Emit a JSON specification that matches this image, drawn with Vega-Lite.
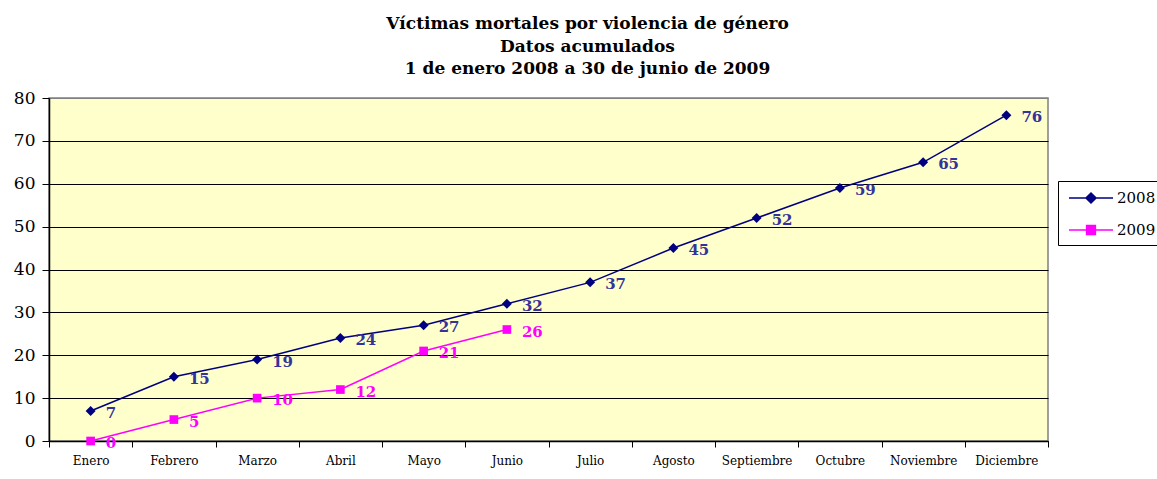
{
  "$schema": "https://vega.github.io/schema/vega-lite/v6.json",
  "width": 999,
  "height": 343,
  "autosize": {"type": "none"},
  "padding": {"left": 49, "top": 98, "right": 109, "bottom": 38},
  "background": "white",
  "title": {
    "text": ["Víctimas mortales por violencia de género", "Datos acumulados", "1 de enero 2008 a 30 de junio de 2009"],
    "font": "DejaVu Serif",
    "fontSize": 17,
    "fontWeight": "bold",
    "color": "black",
    "anchor": "middle",
    "dx": 39,
    "offset": 11,
    "lineHeight": 22.5
  },
  "data": {
    "values": [
      {"mes": "Enero", "year": "2008", "v": 7},
      {"mes": "Febrero", "year": "2008", "v": 15},
      {"mes": "Marzo", "year": "2008", "v": 19},
      {"mes": "Abril", "year": "2008", "v": 24},
      {"mes": "Mayo", "year": "2008", "v": 27},
      {"mes": "Junio", "year": "2008", "v": 32},
      {"mes": "Julio", "year": "2008", "v": 37},
      {"mes": "Agosto", "year": "2008", "v": 45},
      {"mes": "Septiembre", "year": "2008", "v": 52},
      {"mes": "Octubre", "year": "2008", "v": 59},
      {"mes": "Noviembre", "year": "2008", "v": 65},
      {"mes": "Diciembre", "year": "2008", "v": 76},
      {"mes": "Enero", "year": "2009", "v": 0},
      {"mes": "Febrero", "year": "2009", "v": 5},
      {"mes": "Marzo", "year": "2009", "v": 10},
      {"mes": "Abril", "year": "2009", "v": 12},
      {"mes": "Mayo", "year": "2009", "v": 21},
      {"mes": "Junio", "year": "2009", "v": 26}
    ]
  },
  "encoding": {
    "x": {
      "field": "mes",
      "type": "ordinal",
      "bandPosition": 0.5,
      "sort": ["Enero", "Febrero", "Marzo", "Abril", "Mayo", "Junio", "Julio", "Agosto", "Septiembre", "Octubre", "Noviembre", "Diciembre"],
      "scale": {"type": "band", "paddingInner": 0, "paddingOuter": 0},
      "axis": {
        "title": null,
        "labelAngle": 0,
        "tickBand": "extent",
        "grid": false,
        "domainColor": "black",
        "domainWidth": 1.5,
        "tickColor": "black",
        "tickSize": 6,
        "labelFont": "DejaVu Serif",
        "labelFontSize": 12,
        "labelColor": "black",
        "labelPadding": 8
      }
    },
    "y": {
      "field": "v",
      "type": "quantitative",
      "scale": {"domain": [0, 80], "nice": false},
      "axis": {
        "title": null,
        "values": [0, 10, 20, 30, 40, 50, 60, 70, 80],
        "grid": true,
        "gridColor": {"condition": {"test": "datum.value === 80", "value": "#808080"}, "value": "black"},
        "gridWidth": 1,
        "domainColor": "black",
        "domainWidth": 1.5,
        "tickColor": "black",
        "tickSize": 7,
        "labelFont": "DejaVu Serif",
        "labelFontSize": 17,
        "labelColor": "black",
        "labelPadding": 7
      }
    }
  },
  "layer": [
    {
      "mark": {"type": "line", "strokeWidth": 1.5},
      "encoding": {
        "color": {
          "field": "year",
          "type": "nominal",
          "scale": {"domain": ["2008", "2009"], "range": ["#000080", "#FF00FF"]},
          "legend": {
            "title": null,
            "orient": "none",
            "legendX": 1009,
            "legendY": 83,
            "strokeColor": "black",
            "fillColor": "white",
            "padding": 7,
            "rowPadding": 13,
            "symbolSize": 1936,
            "symbolOffset": 3,
            "symbolStrokeWidth": 1.5,
            "labelFont": "DejaVu Serif",
            "labelFontSize": 15,
            "labelColor": "black",
            "labelOffset": 3,
            "encode": {
              "symbols": {
                "update": {
                  "shape": {"signal": "datum.value === '2008' ? 'M-1,0H1M-0.23,0L0,-0.23L0.23,0L0,0.23Z' : 'M-1,0H1M-0.2,-0.2H0.2V0.2H-0.2Z'"},
                  "fill": {"signal": "datum.value === '2008' ? '#000080' : '#FF00FF'"},
                  "stroke": {"signal": "datum.value === '2008' ? '#000080' : '#FF00FF'"},
                  "strokeWidth": {"value": 1.5},
                  "size": {"value": 1936},
                  "opacity": {"value": 1},
                  "y": {"value": 10}
                }
              },
              "labels": {
                "update": {
                  "y": {"value": 10}
                }
              }
            }
          }
        }
      }
    },
    {
      "transform": [{"filter": "datum.year === '2008'"}],
      "mark": {"type": "point", "filled": true, "opacity": 1, "size": 100, "shape": "diamond"},
      "encoding": {
        "color": {"field": "year", "type": "nominal", "legend": null}
      }
    },
    {
      "transform": [{"filter": "datum.year === '2009'"}],
      "mark": {"type": "point", "filled": true, "opacity": 1, "size": 75, "shape": "square"},
      "encoding": {
        "color": {"field": "year", "type": "nominal", "legend": null}
      }
    },
    {
      "mark": {"type": "text", "align": "left", "baseline": "middle", "dx": 15, "dy": 2, "font": "DejaVu Serif", "fontSize": 15, "fontWeight": "bold"},
      "encoding": {
        "text": {"field": "v", "type": "quantitative"},
        "fill": {
          "field": "year",
          "type": "nominal",
          "scale": {"domain": ["2008", "2009"], "range": ["#333399", "#FF00FF"]},
          "legend": null
        }
      }
    }
  ],
  "config": {
    "view": {"fill": "#FFFFCC", "stroke": "#808080", "strokeWidth": 1.5}
  }
}
